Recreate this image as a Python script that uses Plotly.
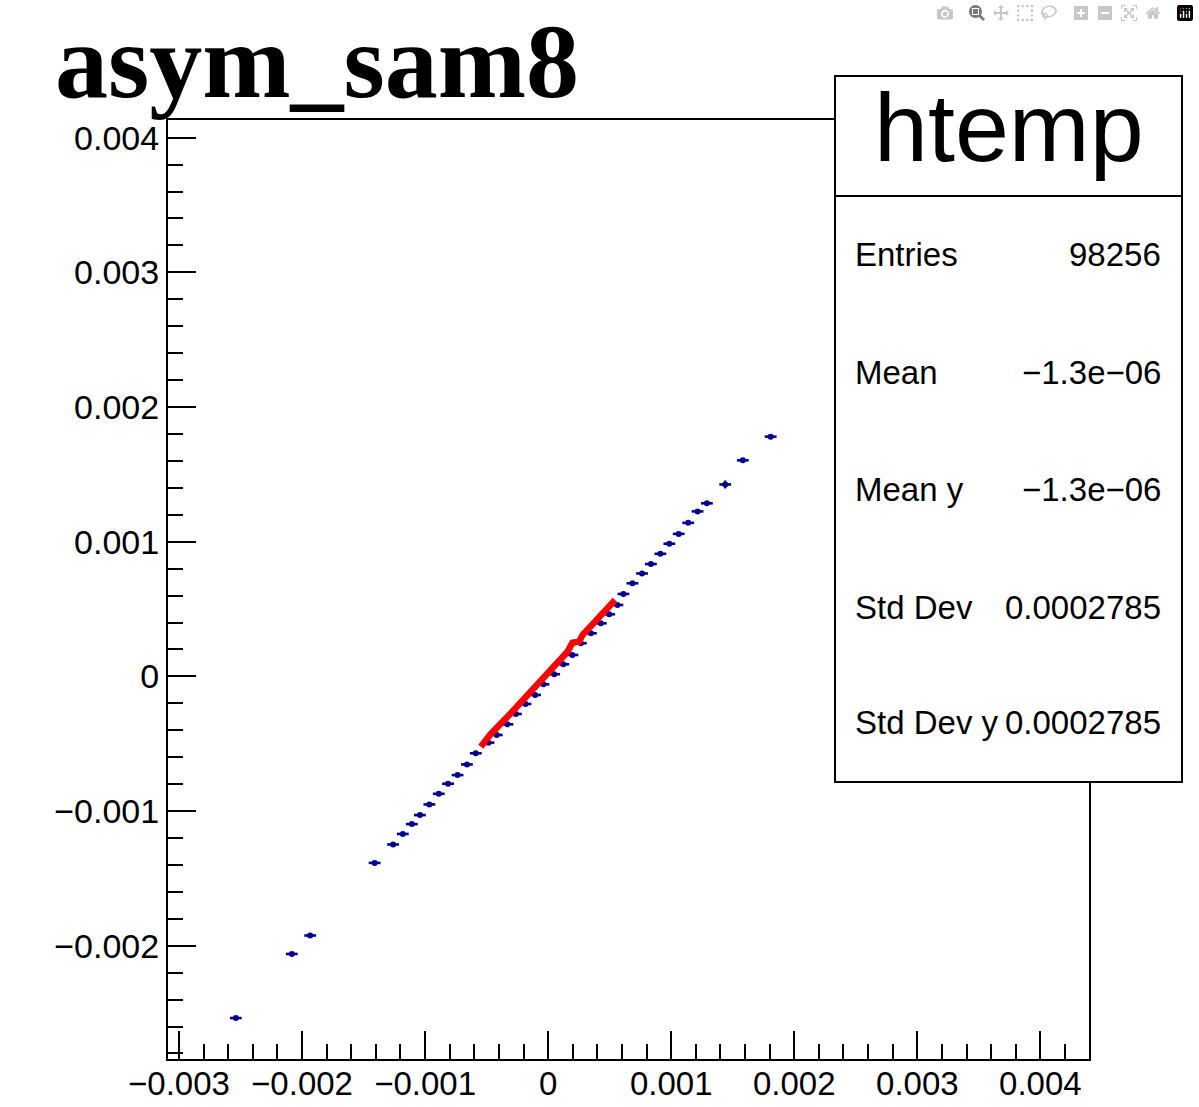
import plotly.graph_objects as go

# ---------------- data ----------------
# profile points (blue): x, y  [units of 1e-3]
prof_x = [-2.538, -2.083, -1.934, -1.410, -1.260, -1.181, -1.108, -1.042, -0.965, -0.889,
          -0.813, -0.736, -0.660, -0.588, -0.485, -0.417, -0.331, -0.262, -0.184, -0.106,
          -0.038, 0.049, 0.123, 0.197, 0.266, 0.347, 0.428, 0.496, 0.563, 0.612,
          0.685, 0.763, 0.835, 0.912, 0.985, 1.061, 1.138, 1.214, 1.290, 1.439,
          1.582, 1.808]
prof_y = [-2.537, -2.061, -1.924, -1.385, -1.248, -1.170, -1.097, -1.030, -0.951, -0.872,
          -0.797, -0.733, -0.654, -0.571, -0.492, -0.435, -0.356, -0.279, -0.205, -0.138,
          -0.059, 0.016, 0.090, 0.159, 0.246, 0.320, 0.394, 0.461, 0.530, 0.612,
          0.691, 0.764, 0.834, 0.910, 0.985, 1.058, 1.140, 1.225, 1.285, 1.425,
          1.604, 1.780]
prof_yerr = [0.0, 0.0, 0.012, 0.0, 0.0, 0.0, 0.012, 0.0, 0.0, 0.0,
             0.012, 0.0, 0.0, 0.0, 0.0, 0.0, 0.0, 0.0, 0.0, 0.0,
             0.0, 0.0, 0.0, 0.0, 0.0, 0.0, 0.0, 0.0, 0.0, 0.0,
             0.0, 0.012, 0.0, 0.0, 0.012, 0.012, 0.012, 0.0, 0.0, 0.030,
             0.0, 0.0]
bin_half_width = 0.048

# scatter of entries (red), traced along the dense band
scat_x = [-0.547, -0.466, -0.303, -0.181, -0.006, 0.157, 0.197, 0.252, 0.279, 0.455, 0.544]
scat_y = [-0.522, -0.428, -0.274, -0.155, 0.016, 0.183, 0.250, 0.258, 0.307, 0.469, 0.567]

tick_vals = [-0.003, -0.002, -0.001, 0.0, 0.001, 0.002, 0.003, 0.004]
tick_text = ["\u22120.003", "\u22120.002", "\u22120.001", "0", "0.001", "0.002", "0.003", "0.004"]

title_text = "asym_sam8"
stats_name = "htemp"
stats_labels = ["Entries", "Mean", "Mean y", "Std Dev", "Std Dev y"]
stats_values = ["98256", "\u22121.3e\u221206", "\u22121.3e\u221206", "0.0002785", "0.0002785"]

# ---------------- figure ----------------
S = 1e-3
fig = go.Figure()
fig.add_trace(go.Scatter(
    x=[v * S for v in prof_x], y=[v * S for v in prof_y], mode="markers",
    marker=dict(size=0, color="#000090"),
    error_x=dict(type="constant", value=bin_half_width * S, width=0, thickness=2.6, color="#000090"),
    error_y=dict(type="data", array=[v * S for v in prof_yerr], width=0, thickness=2.2, color="#000090"),
    hoverinfo="skip"))
fig.add_trace(go.Scatter(
    x=[v * S for v in scat_x], y=[v * S for v in scat_y], mode="lines",
    line=dict(color="#ff0000", width=6.5), hoverinfo="skip"))

W, H = 1199, 1107
L, R, T, B = 168, 1089, 120, 1059


def fx(px):
    return (px - L) / (R - L)


def fy(py):
    return (B - py) / (B - T)


axis_common = dict(
    showline=True, linewidth=2, linecolor="black", mirror=True,
    showgrid=False, zeroline=False, automargin=False,
    ticks="inside", ticklen=28, tickwidth=2, tickcolor="black",
    tickmode="array", tickvals=tick_vals, ticktext=tick_text,
    minor=dict(ticks="inside", ticklen=15, tickwidth=2, tickcolor="black",
               tickmode="linear", tick0=0, dtick=0.0002, showgrid=False),
)

fig.update_layout(
    width=W, height=H, autosize=False,
    margin=dict(l=L, r=W - R, t=T, b=H - B, pad=0, autoexpand=False),
    paper_bgcolor="white", plot_bgcolor="white", showlegend=False,
    xaxis=dict(range=[-0.003089, 0.004395], ticklabelstandoff=-6,
               tickfont=dict(family="Liberation Sans", size=33, color="black"), **axis_common),
    yaxis=dict(range=[-0.002841, 0.004131],
               tickfont=dict(family="Liberation Sans", size=34, color="black"), **axis_common),
)

# stats box
bx0, bx1, by0, by1, bdiv = 835, 1182, 76, 782, 196
fig.add_shape(type="rect", xref="paper", yref="paper", layer="above",
              x0=fx(bx0), x1=fx(bx1), y0=fy(by1), y1=fy(by0),
              line=dict(color="black", width=2), fillcolor="white")
fig.add_shape(type="line", xref="paper", yref="paper", layer="above",
              x0=fx(bx0), x1=fx(bx1), y0=fy(bdiv), y1=fy(bdiv),
              line=dict(color="black", width=2))

annos = []
annos.append(dict(text="<b>" + title_text + "</b>", x=fx(53), y=fy(62), xref="paper", yref="paper",
                  xanchor="left", yanchor="middle", showarrow=False,
                  font=dict(family="Liberation Serif", size=106, color="black")))
annos.append(dict(text=stats_name, x=fx((bx0 + bx1) / 2), y=fy(127), xref="paper", yref="paper",
                  xanchor="center", yanchor="middle", showarrow=False,
                  font=dict(family="Liberation Sans", size=97, color="black")))
row_centers = [254, 372, 489, 607, 722]
for lab, val, yc in zip(stats_labels, stats_values, row_centers):
    annos.append(dict(text=lab, x=fx(853), y=fy(yc), xref="paper", yref="paper",
                      xanchor="left", yanchor="middle", showarrow=False,
                      font=dict(family="Liberation Sans", size=33, color="black")))
    annos.append(dict(text=val, x=fx(1163), y=fy(yc), xref="paper", yref="paper",
                      xanchor="right", yanchor="middle", showarrow=False,
                      font=dict(family="Liberation Sans", size=33, color="black")))
fig.update_layout(annotations=annos)

fig.write_html("out.html", post_script="document.body.style.margin='0';")
